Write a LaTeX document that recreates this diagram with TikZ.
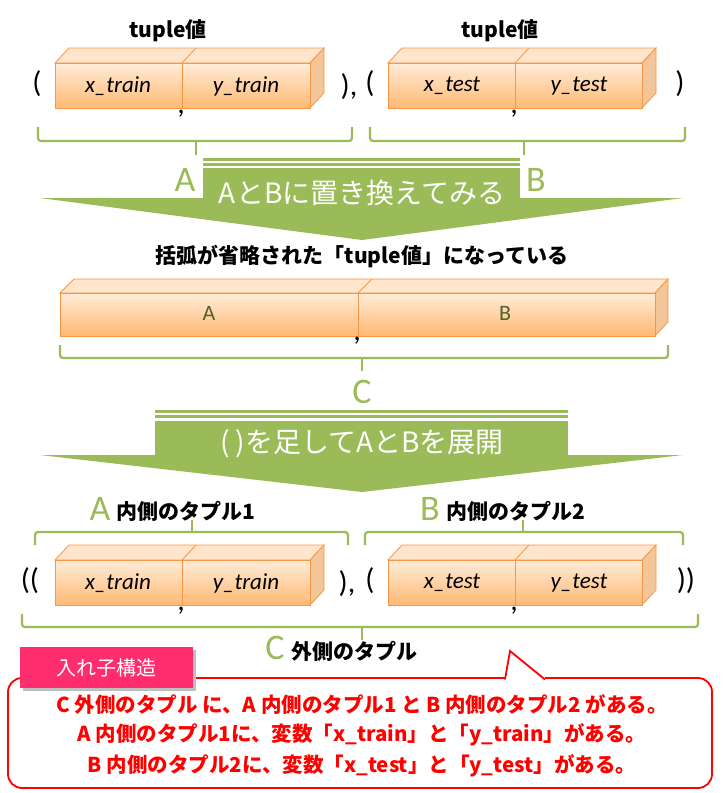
\documentclass[tikz,border=0pt]{standalone}
\usepackage{fontspec}
\setmainfont{Noto Sans CJK JP}
\newfontfamily\calfnt{Carlito}
\usetikzlibrary{shapes.geometric}
\definecolor{og}{HTML}{F79646}
\definecolor{gr}{HTML}{9BBB59}
\definecolor{olv}{HTML}{4F6228}
\definecolor{rd}{HTML}{FF0000}
\tikzset{
 face/.style={draw=og,line width=0.8pt,top color=orange!15!white,bottom color=orange!55!white},
 topf/.style={draw=og,line width=0.8pt,fill=orange!20!white},
 sidef/.style={draw=og,line width=0.8pt,fill=brown!45!orange!45!white},
 lab/.style={font=\calfnt\itshape\fontsize{23}{23}\selectfont},
 blk/.style={font=\bfseries\fontsize{21}{21}\selectfont},
 par/.style={font=\calfnt\fontsize{30}{30}\selectfont},
 grl/.style={text=gr,font=\calfnt\fontsize{36}{36}\selectfont},
 br/.style={draw=gr,line width=2.2pt,rounded corners=3pt},
 arr/.style={fill=gr,draw=none},
 red/.style={text=rd,font=\bfseries\fontsize{20.5}{20.5}\selectfont},
}
\newcommand{\tbox}[6]{% x1 xm x2 ytop ybot
 \fill[topf] (#1,#4) -- ++(14,-15) -- (#3+14,#4-15) -- (#3,#4) -- cycle;
 \draw[og,line width=0.8pt] (#2,#4) -- ++(14,-15);
 \fill[sidef] (#3,#4) -- (#3+14,#4-15) -- (#3+14,#5-15) -- (#3,#5) -- cycle;
 \draw[face] (#1,#4) rectangle (#2,#5);
 \draw[face] (#2,#4) rectangle (#3,#5);
}
\begin{document}
\begin{tikzpicture}[x=1pt,y=-1pt]
\useasboundingbox (0,0) rectangle (723,793);
% top row
\node[blk] (t1) at (168,31) {tuple値};
\node[blk] (t2) at (500,31) {tuple値};
\tbox{55}{182}{310}{63}{108}{}
\node[lab] (xa) at (118,86) {x\_train};
\node[lab] (ya) at (246,86) {y\_train};
\tbox{388}{515}{642}{63}{108}{}
\node[lab] (xb) at (452,86) {x\_test};
\node[lab] (yb) at (579,86) {y\_test};
\node[par] (p1) at (37,84) {(};
\node[par] (p2) at (349,87) {),};
\node[par] (p3) at (370,84) {(};
\node[par] (p4) at (680,84) {)};
\node[par] (c1) at (181,114) {,};
\node[par] (c2) at (514,114) {,};
% top braces
\draw[br] (38,127) -- (38,141) -- (352,141) -- (352,127);
\draw[br] (196,141) -- (196,155);
\draw[br] (370,127) -- (370,141) -- (685,141) -- (685,127);
\draw[br] (524,141) -- (524,155);
% arrow 1
\fill[arr] (40,198) -- (683,198) -- (362,240) -- cycle;
\fill[arr] (203,168) rectangle (520,212);
\fill[arr] (203,158) rectangle (520,160.5);
\fill[arr] (203,163) rectangle (520,165.5);
\node[text=white,font=\fontsize{28}{28}\selectfont] (a1) at (362,193) {AとBに置き換えてみる};
\node[grl] (gA) at (185,180) {A};
\node[grl] (gB) at (536,180) {B};
\node[blk] (mid) at (362,256) {括弧が省略された「tuple値」になっている};
% middle box
\fill[topf] (60,293) -- (74,279) -- (668,279) -- (655,293) -- cycle;
\draw[og,line width=0.8pt] (358,293) -- (372,279);
\fill[sidef] (655,293) -- (668,279) -- (668,322) -- (655,336) -- cycle;
\draw[face] (60,293) rectangle (358,336);
\draw[face] (358,293) rectangle (655,336);
\node[text=olv,font=\calfnt\fontsize{22}{22}\selectfont] (mA) at (209,313) {A};
\node[text=olv,font=\calfnt\fontsize{22}{22}\selectfont] (mB) at (505,313) {B};
\node[par] (c3) at (357,341) {,};
\draw[br] (60,345) -- (60,358) -- (668,358) -- (668,345);
\draw[br] (362,358) -- (362,371);
\node[grl] (gC) at (362,392) {C};
% arrow 2
\fill[arr] (40,455) -- (683,455) -- (362,492) -- cycle;
\fill[arr] (155,421) rectangle (568,468);
\fill[arr] (155,410) rectangle (568,412.5);
\fill[arr] (155,415) rectangle (568,417.5);
\node[text=white,font=\fontsize{28}{28}\selectfont] (a2) at (362,444) {( )を足してAとBを展開};
% inner labels
\node[grl] (gA2) at (100,509) {A};
\node[blk,anchor=west] (iA) at (113,511) {内側のタプル1};
\node[grl] (gB2) at (430,509) {B};
\node[blk,anchor=west] (iB) at (443,511) {内側のタプル2};
\draw[br] (35,545) -- (35,532) -- (348,532) -- (348,545);
\draw[br] (192,532) -- (192,520);
\draw[br] (365,545) -- (365,532) -- (683,532) -- (683,545);
\draw[br] (523,532) -- (523,520);
% bottom row
\tbox{55}{182}{310}{560}{605}{}
\node[lab] (xa2) at (118,583) {x\_train};
\node[lab] (ya2) at (246,583) {y\_train};
\tbox{388}{515}{642}{560}{605}{}
\node[lab] (xb2) at (452,583) {x\_test};
\node[lab] (yb2) at (579,583) {y\_test};
\node[par] (q1) at (30,581) {((};
\node[par] (q2) at (347,584) {),};
\node[par] (q3) at (370,581) {(};
\node[par] (q4) at (686,581) {))};
\node[par] (c4) at (181,611) {,};
\node[par] (c5) at (514,611) {,};
\draw[br] (22,614) -- (22,627) -- (698,627) -- (698,614);
\draw[br] (362,627) -- (362,640);
\node[grl] (gC2) at (275,648) {C};
\node[blk,anchor=west] (oC) at (288,651) {外側のタプル};
% callout
\draw[rd,line width=1.8pt,fill=white,rounded corners=14pt] (505,678) -- (8,678) -- (8,788) -- (712,788) -- (712,678) -- (545,678);
\draw[rd,line width=1.8pt,fill=white] (505,679.5) -- (510,651) -- (545,679.5);
\fill[white] (506,681) -- (510,659) -- (542,681) -- cycle;
\fill[black!25] (23,650) rectangle (196,691);
\fill[fill={rgb,255:red,255;green,45;blue,110}] (20,647) rectangle (193,688) node[midway,text=white,font=\fontsize{20}{20}\selectfont] (nest) {入れ子構造};
\node[red] (l1) at (362,704) {C 外側のタプル に、A 内側のタプル1 と B 内側のタプル2 がある。};
\node[red] (l2) at (362,735) {A 内側のタプル1に、変数「x\_train」と「y\_train」がある。};
\node[red] (l3) at (362,766) {B 内側のタプル2に、変数「x\_test」と「y\_test」がある。};
\end{tikzpicture}
\end{document}
